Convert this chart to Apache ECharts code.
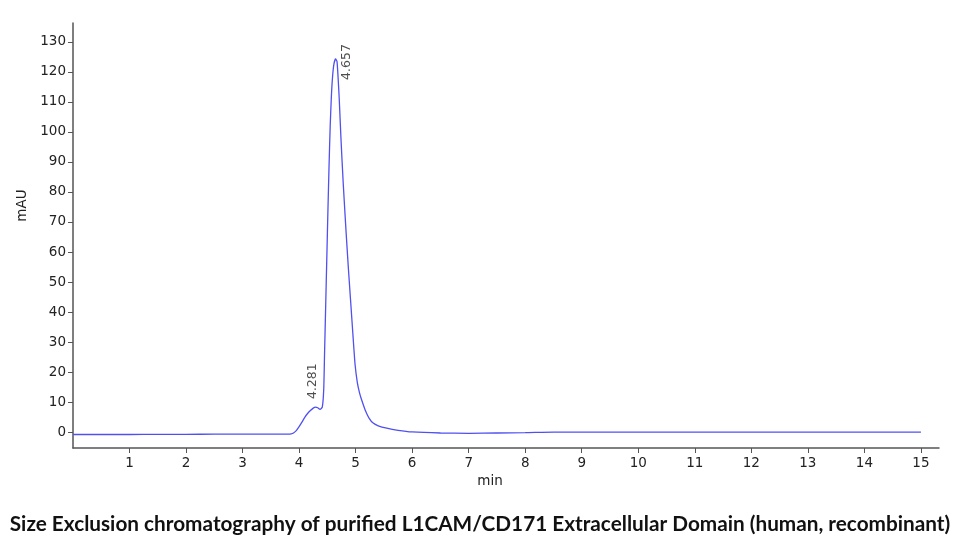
<!DOCTYPE html>
<html><head><meta charset="utf-8">
<script src="https://cdn.jsdelivr.net/npm/echarts@6/dist/echarts.min.js"></script>
<style>html,body{margin:0;padding:0;background:#fff}#c{width:960px;height:537px}</style>
</head><body><div id="c"></div>
<script>
const timeMin = [0,0.5,1,1.5,2,2.5,3,3.5,3.8,3.86,3.9,3.95,4.0,4.05,4.1,4.15,4.2,4.25,4.29,4.33,4.37,4.41,4.435,4.45,4.47,4.49,4.51,4.53,4.55,4.57,4.59,4.615,4.645,4.67,4.69,4.71,4.74,4.78,4.83,4.87,4.91,4.95,4.99,5.03,5.07,5.11,5.17,5.24,5.31,5.4,5.55,5.75,6.0,6.5,7.0,7.5,8.0,8.5,9,10,11,12,13,14,15];
const absorbance = [-0.8,-0.8,-0.8,-0.75,-0.75,-0.7,-0.7,-0.7,-0.7,-0.6,-0.3,0.5,1.8,3.3,4.9,6.2,7.2,8.0,8.3,8.1,7.6,8.3,14,26,42,58,74,89,102,111.5,118,122.5,124.3,123.5,118,111,98,83,67,55,44,33,22.5,16.5,13,10.5,7.3,4.6,3.0,2.1,1.3,0.6,0.05,-0.3,-0.4,-0.3,-0.2,0,0,0,0,0,0,0,0];
const peakTimes = [4.281, 4.657];
const peakHeights = [8.3, 124.3];
const peakLabels = ['4.281', '4.657'];
const xTicks = [1,2,3,4,5,6,7,8,9,10,11,12,13,14,15];
const yTicks = [0,10,20,30,40,50,60,70,80,90,100,110,120,130];
const titleText = 'Size Exclusion chromatography of purified L1CAM/CD171 Extracellular Domain (human, recombinant)';

const chart = echarts.init(document.getElementById('c'), null, {renderer:'canvas'});
const axisFont = {color:'#222', fontSize:13.5, fontFamily:'DejaVu Sans'};
const labelOffsets = [[26,-2],[-3,11]];
chart.setOption({
  animation:false,
  backgroundColor:'#fff',
  title:{text:titleText, left:'center', top:509, textStyle:{fontFamily:'Lato', fontWeight:'bold', fontSize:20.75, color:'#111'}},
  grid:{left:73, right:21, top:23, bottom:89},
  xAxis:{type:'value', min:0, max:15.32, name:'min', nameLocation:'middle', nameGap:24,
    nameTextStyle:{color:'#222', fontSize:13.5, fontFamily:'DejaVu Sans', padding:[0,32,0,0]},
    axisLine:{onZero:false, lineStyle:{color:'#555', width:1.5}},
    axisTick:{customValues:xTicks, length:5, lineStyle:{color:'#555'}},
    axisLabel:Object.assign({customValues:xTicks, margin:8}, axisFont),
    splitLine:{show:false}},
  yAxis:{type:'value', min:-5.3, max:136.3, name:'mAU', nameLocation:'middle', nameGap:32, nameRotate:90,
    nameTextStyle:{color:'#222', fontSize:13.5, fontFamily:'DejaVu Sans', padding:[0,0,0,60]},
    axisLine:{show:true, onZero:false, lineStyle:{color:'#555', width:1.5}},
    axisTick:{show:true, customValues:yTicks, length:5, lineStyle:{color:'#555'}},
    axisLabel:Object.assign({customValues:yTicks, margin:7}, axisFont),
    splitLine:{show:false}},
  series:[
    {type:'line', data:timeMin.map((t,i)=>[t,absorbance[i]]), smooth:0.2, showSymbol:false,
      lineStyle:{color:'#5050f0', width:1.3}},
    {type:'scatter', symbolSize:0, data:peakTimes.map((t,i)=>({value:[t,peakHeights[i]],
        label:{offset:labelOffsets[i]}})),
      label:{show:true, rotate:90, position:'inside', align:'center', verticalAlign:'middle',
        formatter:p=>peakLabels[p.dataIndex], color:'#222', fontSize:12.5, fontFamily:'DejaVu Sans'}
    }
  ]
});
</script></body></html>
